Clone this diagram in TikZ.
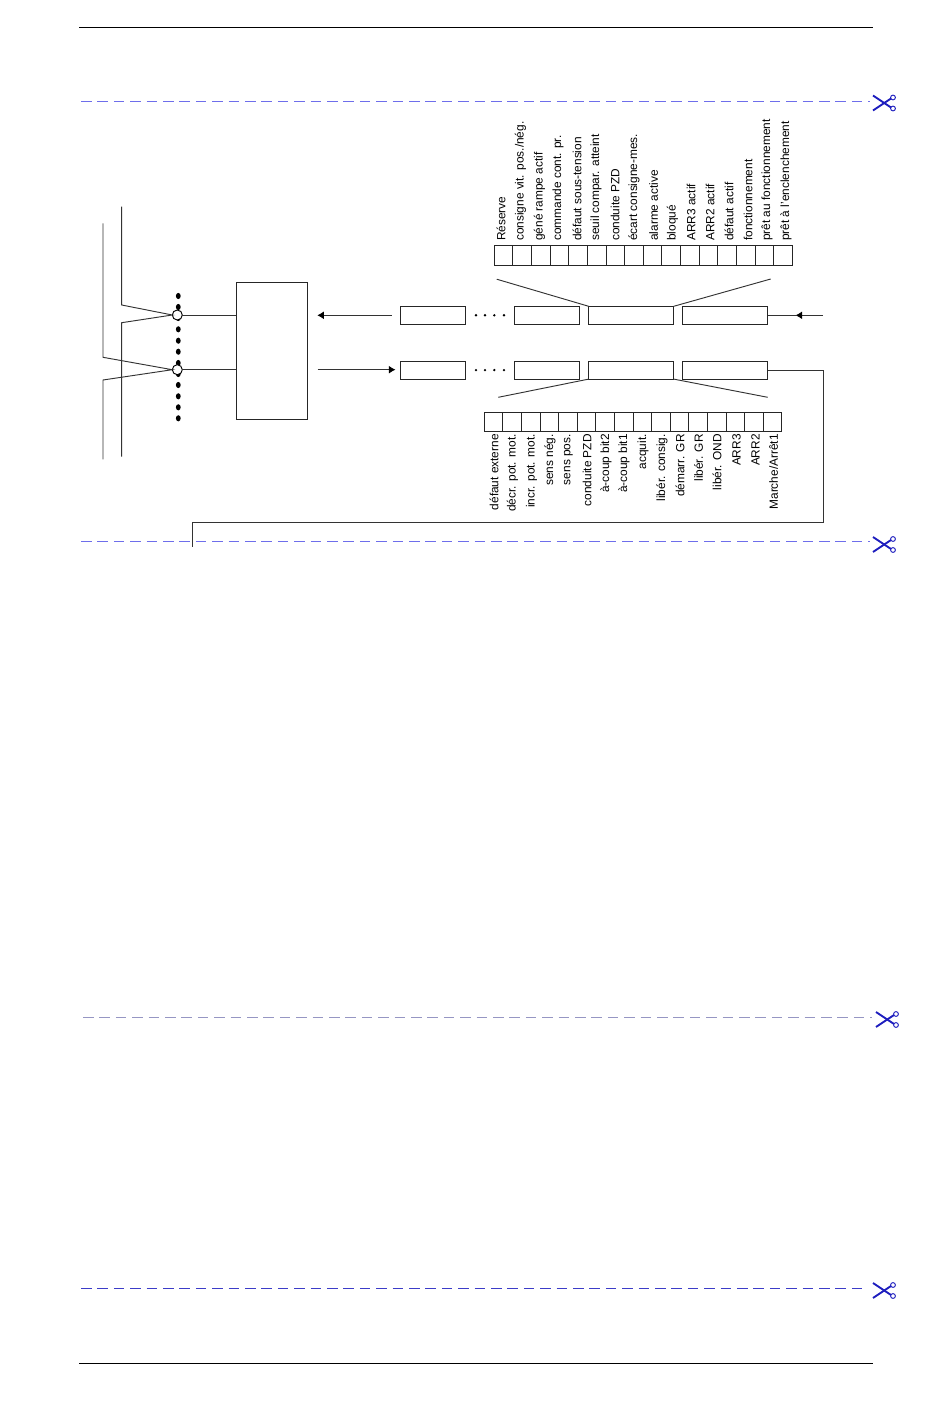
\documentclass[tikz,border=0pt]{standalone}
\usepackage{fontspec}
\setmainfont{Liberation Sans}
\usetikzlibrary{arrows.meta,shapes.geometric}
\definecolor{dashviolet}{RGB}{110,110,235}
\definecolor{dashgray}{RGB}{150,150,195}
\definecolor{dashblue}{RGB}{60,60,200}
\definecolor{cutmark}{RGB}{30,30,190}
\tikzset{
    wire/.style={draw=black!80,line width=0.7pt},
    rule/.style={draw=black,line width=0.6pt},
    wordshort/.style={shape=rectangle,draw=black!85,line width=0.7pt,minimum width=48.75pt,minimum height=13.5pt,inner sep=0pt,outer sep=0pt},
    wordlong/.style={wordshort,minimum width=63.75pt},
    bitcell/.style={shape=rectangle,draw=black!85,line width=0.7pt,minimum width=13.95pt,minimum height=14.5pt,inner sep=0pt,outer sep=0pt},
    statustxt/.style={rotate=90,anchor=west,inner sep=0pt,font=\fontsize{8.9}{10}\selectfont},
    commandtxt/.style={rotate=90,anchor=east,inner sep=0pt,font=\fontsize{8.9}{10}\selectfont},
    port/.style={shape=circle,draw=black,fill=white,line width=0.7pt,minimum size=7.5pt,inner sep=0pt,outer sep=0pt},
    busdot/.style={shape=ellipse,fill=black,minimum width=3.6pt,minimum height=4.6pt,inner sep=0pt},
    wordot/.style={shape=circle,fill=black,minimum size=2pt,inner sep=0pt},
    cutdash/.style={line width=0.7pt,dash pattern=on 8pt off 4.3pt},
    flow/.style={wire,-{Latex[length=5pt,width=6pt,black]}},
    scissors/.pic={
        \draw[cutmark,line width=1.4pt] (-12,-7) -- (6,5);
        \draw[cutmark,line width=1.4pt] (-12,8) -- (6,-4);
        \draw[cutmark,line width=0.7pt] (8,6) circle[radius=1.8pt];
        \draw[cutmark,line width=0.7pt] (8,-5) circle[radius=1.8pt];
    }
}
\begin{document}
\begin{tikzpicture}[x=0.75pt,y=-0.75pt]
        \useasboundingbox (0,0) rectangle (950,1409);
        % page rules
        \coordinate (RT1) at (79,27);
        \coordinate (RT2) at (873,27);
        \coordinate (RB1) at (79,1363);
        \coordinate (RB2) at (873,1363);
        \path [rule](RT1) edge (RT2);
        \path [rule](RB1) edge (RB2);
        % cutting lines
        \coordinate (K1a) at (81,101);
        \coordinate (K1b) at (870,101);
        \coordinate (K2a) at (81,541.5);
        \coordinate (K2b) at (870,541.5);
        \coordinate (K3a) at (83,1017.5);
        \coordinate (K3b) at (872,1017.5);
        \coordinate (K4a) at (81,1288.5);
        \coordinate (K4b) at (868,1288.5);
        \draw[cutdash,draw=dashviolet] (K1a) -- (K1b);
        \draw[cutdash,draw=dashviolet] (K2a) -- (K2b);
        \draw[cutdash,draw=dashgray] (K3a) -- (K3b);
        \draw[cutdash,draw=dashblue] (K4a) -- (K4b);
        \pic at (885,102.5) {scissors};
        \pic at (885,544) {scissors};
        \pic at (888,1019) {scissors};
        \pic at (885,1290) {scissors};
        % bus dots
        \node[busdot] (D1) at (178.3,296) {};
        \node[busdot] (D2) at (178.3,307) {};
        \node[busdot] (D3) at (178.3,318) {};
        \node[busdot] (D4) at (178.3,329.3) {};
        \node[busdot] (D5) at (178.3,340.7) {};
        \node[busdot] (D6) at (178.3,351.7) {};
        \node[busdot] (D7) at (178.3,363) {};
        \node[busdot] (D8) at (178.3,374) {};
        \node[busdot] (D9) at (178.3,385) {};
        \node[busdot] (D10) at (178.3,396.3) {};
        \node[busdot] (D11) at (178.3,407.3) {};
        \node[busdot] (D12) at (178.3,418.3) {};
        % bus cables and station
        \node[port] (PA) at (177.3,315) {};
        \node[port] (PB) at (177.3,369.7) {};
        \node[shape=rectangle,draw=black!85,line width=0.7pt,minimum width=53.25pt,minimum height=102.2pt,inner sep=0pt,outer sep=0pt] (ST) at (271.8,350.9) {};
        \coordinate (A1) at (121.7,206.7);
        \coordinate (A2) at (121.7,305);
        \coordinate (A3) at (121.7,322.7);
        \coordinate (A4) at (121.7,456.7);
        \coordinate (B1) at (103,223.3);
        \coordinate (B2) at (103,357.3);
        \coordinate (B3) at (103,380);
        \coordinate (B4) at (103,459.3);
        \draw[wire] (A1) -- (A2) -- (PA.west) -- (A3) -- (A4);
        \draw[wire] (B1) -- (B2) -- (PB.west) -- (B3) -- (B4);
        \path [wire](PA) edge (PA -| ST.west);
        \path [wire](PB) edge (PB -| ST.west);
        % telegram words
        \node[wordshort] (WA1) at (433.4,315.3) {};
        \node[wordshort] (WA2) at (546.8,315.3) {};
        \node[wordlong] (WA3) at (631.2,315.3) {};
        \node[wordlong] (WA4) at (725,315.3) {};
        \node[wordshort] (WB1) at (433.4,370.1) {};
        \node[wordshort] (WB2) at (546.8,370.1) {};
        \node[wordlong] (WB3) at (631.2,370.1) {};
        \node[wordlong] (WB4) at (725,370.1) {};
        \node[wordot] (HA1) at (476,315.3) {};
        \node[wordot] (HA2) at (485,315.3) {};
        \node[wordot] (HA3) at (494.3,315.3) {};
        \node[wordot] (HA4) at (504,315.3) {};
        \node[wordot] (HB1) at (476,370.1) {};
        \node[wordot] (HB2) at (485,370.1) {};
        \node[wordot] (HB3) at (494.3,370.1) {};
        \node[wordot] (HB4) at (504,370.1) {};
        % arrows
        \coordinate (AL1) at (391.7,315.3);
        \coordinate (AL2) at (317.3,315.3);
        \coordinate (AR1) at (317.7,369.7);
        \coordinate (AR2) at (395.5,369.7);
        \coordinate (IN1) at (823,315.3);
        \coordinate (IN2) at (795.5,315.3);
        \draw[flow] (AL1) -- (AL2);
        \draw[flow] (AR1) -- (AR2);
        \draw[flow] (IN1) -- (IN2);
        \path [wire](IN2) edge (WA4.east);
        % return line
        \coordinate (L1) at (823,370.1);
        \coordinate (L2) at (823,522);
        \coordinate (L3) at (192.4,522);
        \coordinate (L4) at (192.4,546.7);
        \draw[wire] (WB4.east) -- (L1) -- (L2) -- (L3) -- (L4);
        % funnels
        \coordinate (FA1) at (496.7,279.2);
        \coordinate (FA2) at (770.7,279);
        \coordinate (FB1) at (498.3,397.3);
        \coordinate (FB2) at (767.7,397.3);
        \path [wire](FA1) edge (WA3.north west);
        \path [wire](FA2) edge (WA3.north east);
        \path [wire](FB1) edge (WB3.south west);
        \path [wire](FB2) edge (WB3.south east);
        % status word
        \node[bitcell] (SA1) at (503.6,255.4) {};
        \node[bitcell] (SA2) at (522.2,255.4) {};
        \node[bitcell] (SA3) at (540.9,255.4) {};
        \node[bitcell] (SA4) at (559.5,255.4) {};
        \node[bitcell] (SA5) at (578.1,255.4) {};
        \node[bitcell] (SA6) at (596.7,255.4) {};
        \node[bitcell] (SA7) at (615.3,255.4) {};
        \node[bitcell] (SA8) at (634,255.4) {};
        \node[bitcell] (SA9) at (652.6,255.4) {};
        \node[bitcell] (SA10) at (671.2,255.4) {};
        \node[bitcell] (SA11) at (689.8,255.4) {};
        \node[bitcell] (SA12) at (708.4,255.4) {};
        \node[bitcell] (SA13) at (727.1,255.4) {};
        \node[bitcell] (SA14) at (745.7,255.4) {};
        \node[bitcell] (SA15) at (764.3,255.4) {};
        \node[bitcell] (SA16) at (782.9,255.4) {};
        \node[statustxt] (TA1) at (501,241) {Réserve};
        \node[statustxt] (TA2) at (520.5,241) {consigne vit. pos./nég.};
        \node[statustxt] (TA3) at (539.5,241) {géné rampe actif};
        \node[statustxt] (TA4) at (558,241) {commande cont. pr.};
        \node[statustxt] (TA5) at (577,241) {défaut sous-tension};
        \node[statustxt] (TA6) at (596,241) {seuil compar. atteint};
        \node[statustxt] (TA7) at (615,241) {conduite PZD};
        \node[statustxt] (TA8) at (634,241) {écart consigne-mes.};
        \node[statustxt] (TA9) at (653.5,241) {alarme active};
        \node[statustxt] (TA10) at (672.5,241) {bloqué};
        \node[statustxt] (TA11) at (691,241) {ARR3 actif};
        \node[statustxt] (TA12) at (710,241) {ARR2 actif};
        \node[statustxt] (TA13) at (729,241) {défaut actif};
        \node[statustxt] (TA14) at (748,241) {fonctionnement};
        \node[statustxt] (TA15) at (767,241) {prêt au fonctionnement};
        \node[statustxt] (TA16) at (786,241) {prêt à l'enclenchement};
        % command word
        \node[bitcell] (CB1) at (493.6,422.2) {};
        \node[bitcell] (CB2) at (512.2,422.2) {};
        \node[bitcell] (CB3) at (530.8,422.2) {};
        \node[bitcell] (CB4) at (549.4,422.2) {};
        \node[bitcell] (CB5) at (568,422.2) {};
        \node[bitcell] (CB6) at (586.6,422.2) {};
        \node[bitcell] (CB7) at (605.2,422.2) {};
        \node[bitcell] (CB8) at (623.8,422.2) {};
        \node[bitcell] (CB9) at (642.4,422.2) {};
        \node[bitcell] (CB10) at (661,422.2) {};
        \node[bitcell] (CB11) at (679.6,422.2) {};
        \node[bitcell] (CB12) at (698.2,422.2) {};
        \node[bitcell] (CB13) at (716.8,422.2) {};
        \node[bitcell] (CB14) at (735.4,422.2) {};
        \node[bitcell] (CB15) at (754,422.2) {};
        \node[bitcell] (CB16) at (772.6,422.2) {};
        \node[commandtxt] (TB1) at (494,434) {défaut externe};
        \node[commandtxt] (TB2) at (512.5,434) {décr. pot. mot.};
        \node[commandtxt] (TB3) at (531.5,434) {incr. pot. mot.};
        \node[commandtxt] (TB4) at (550,434) {sens nég.};
        \node[commandtxt] (TB5) at (568.5,434) {sens pos.};
        \node[commandtxt] (TB6) at (587,434) {conduite PZD};
        \node[commandtxt] (TB7) at (606,434) {à-coup bit2};
        \node[commandtxt] (TB8) at (624,434) {à-coup bit1};
        \node[commandtxt] (TB9) at (643,434) {acquit.};
        \node[commandtxt] (TB10) at (662,434) {libér. consig.};
        \node[commandtxt] (TB11) at (680,434) {démarr. GR};
        \node[commandtxt] (TB12) at (698.5,434) {libér. GR};
        \node[commandtxt] (TB13) at (717,434) {libér. OND};
        \node[commandtxt] (TB14) at (736.5,434) {ARR3};
        \node[commandtxt] (TB15) at (755.5,434) {ARR2};
        \node[commandtxt] (TB16) at (773.5,434) {Marche/Arrêt1};
    \end{tikzpicture}
\end{document}
